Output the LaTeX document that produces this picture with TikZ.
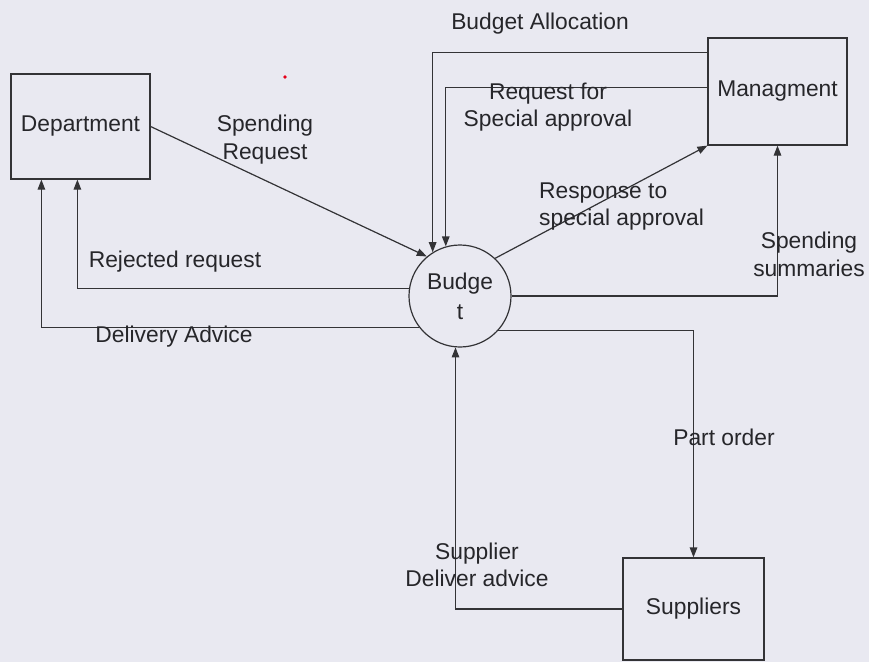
\documentclass[tikz,border=0pt]{standalone}
\usepackage{fontspec}
\setmainfont{Liberation Sans}
\usetikzlibrary{arrows.meta}
\definecolor{bg}{HTML}{E9E9F1}
\definecolor{ink}{HTML}{333336}
\definecolor{txt}{HTML}{26262A}
\tikzset{
  ent/.style={draw=ink, line width=1.2pt, rectangle, inner sep=0pt, text=txt,
    font=\fontsize{22.8}{27.5}\selectfont},
  proc/.style={draw=ink, line width=1.2pt, circle, inner sep=0pt, minimum size=102pt,
    text=txt, align=center, font=\fontsize{22.8}{30}\selectfont},
  lbl/.style={inner sep=0pt, text=txt, align=center, font=\fontsize{22.8}{27.5}\selectfont},
  flow/.style={draw=ink, line width=1.2pt, -{Triangle[length=10pt,width=7.5pt]}}
}
\begin{document}
\begin{tikzpicture}[x=1pt,y=-1pt]
\useasboundingbox (0,0) rectangle (869,662);
\fill[bg] (0,0) rectangle (869,662);
\fill[red!60!purple] (285,77) circle (1.8pt);

\node[ent, minimum width=139pt, minimum height=105pt] (dep) at (80.5,126.5) {Department};
\node[ent, minimum width=139pt, minimum height=107pt] (mgmt) at (777.5,91.5) {Managment};
\node[ent, minimum width=141pt, minimum height=102pt] (supp) at (693.5,609) {Suppliers};
\node[proc] (bud) at (460,296) {Budge\\t};

% flows
\draw[flow] (dep.east) -- (bud.130);
\draw[flow] (bud.172) -| ([xshift=67pt]dep.south west);
\draw[flow] (bud.218) -| ([xshift=31pt]dep.south west);
\draw[flow] ([yshift=-15pt]mgmt.north west) -| (bud.122);
\draw[flow] ([yshift=-50pt]mgmt.north west) -| (bud.106);
\draw[flow] (bud.47) -- (mgmt.south west);
\draw[flow] (bud.east) -| (mgmt.south);
\draw[flow] (bud.-42) -| (supp.north);
\draw[flow] (supp.west) -| (bud.265);

% labels
\node[lbl] (l1) at (265,139.5) {Spending\\Request};
\node[lbl] (l2) at (175,262) {Rejected request};
\node[lbl] (l3) at (174,337) {Delivery Advice};
\node[lbl] (l4) at (540,24) {Budget Allocation};
\node[lbl] (l5) at (548,107) {Request for\\Special approval};
\node[lbl, align=left, anchor=west] (l6) at (539,206.5) {Response to\\special approval};
\node[lbl] (l7) at (809,254.5) {Spending\\summaries};
\node[lbl] (l8) at (724,437) {Part order};
\node[lbl] (l9) at (477,565) {Supplier\\Deliver advice};
\end{tikzpicture}
\end{document}
